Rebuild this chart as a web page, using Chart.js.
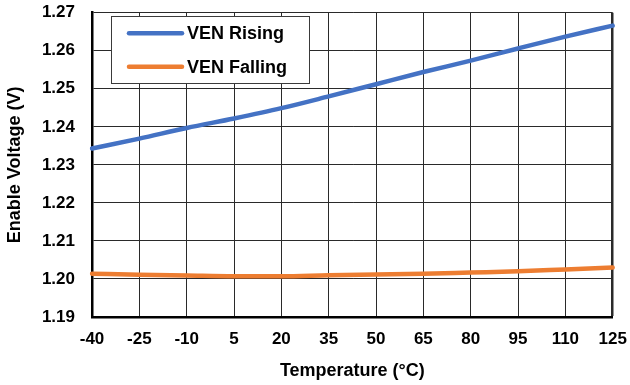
<!DOCTYPE html>
<html>
<head>
<meta charset="utf-8">
<script src="https://cdn.jsdelivr.net/npm/chart.js@4/dist/chart.umd.min.js"></script>
<style>
html,body{margin:0;padding:0;background:#fff;}
#wrap{width:630px;height:385px;position:relative;}
</style>
</head>
<body>
<div id="wrap"><canvas id="c" width="630" height="385"></canvas></div>
<script>
const TEMPS = ['-40','-25','-10','5','20','35','50','65','80','95','110','125'];
const VEN_RISING = [1.2343, 1.2369, 1.2397, 1.2422, 1.2449, 1.2480, 1.2512, 1.2544, 1.2574, 1.2606, 1.2637, 1.2666];
const VEN_FALLING = [1.2014, 1.2011, 1.2009, 1.2007, 1.2007, 1.2010, 1.2012, 1.2014, 1.2017, 1.2020, 1.2025, 1.2030];
const Y_MIN = 1.19, Y_MAX = 1.27, Y_STEP = 0.01;
const X_TITLE = 'Temperature (°C)';
const Y_TITLE = 'Enable Voltage (V)';

const FONT = '"Liberation Sans", Arial, Helvetica, sans-serif';

const insideLegend = {
  id: 'insideLegend',
  afterDraw(chart) {
    const ctx = chart.ctx;
    const x0 = 111, y0 = 16, w = 198, h = 67;
    ctx.save();
    ctx.fillStyle = '#ffffff';
    ctx.fillRect(x0, y0, w, h);
    ctx.strokeStyle = '#3a3a3a';
    ctx.lineWidth = 1;
    ctx.strokeRect(x0 + 0.5, y0 + 0.5, w, h);
    const rows = [33.3, 66.7];
    chart.data.datasets.forEach((ds, i) => {
      const y = rows[i];
      ctx.strokeStyle = ds.borderColor;
      ctx.lineWidth = 4.5;
      ctx.lineCap = 'round';
      ctx.beginPath();
      ctx.moveTo(129, y);
      ctx.lineTo(182, y);
      ctx.stroke();
      ctx.fillStyle = '#000';
      ctx.font = 'bold 18px ' + FONT;
      ctx.textBaseline = 'middle';
      ctx.textAlign = 'left';
      ctx.fillText(ds.label, 187, y + 1);
    });
    ctx.restore();
  }
};

new Chart(document.getElementById('c'), {
  type: 'line',
  data: {
    labels: TEMPS,
    datasets: [
      { label: 'VEN Rising', data: VEN_RISING, borderColor: '#4472C4', backgroundColor: '#4472C4', borderWidth: 4.5, pointRadius: 0, tension: 0.3, cubicInterpolationMode: 'monotone', borderCapStyle: 'round' },
      { label: 'VEN Falling', data: VEN_FALLING, borderColor: '#ED7D31', backgroundColor: '#ED7D31', borderWidth: 4.5, pointRadius: 0, tension: 0.3, cubicInterpolationMode: 'monotone', borderCapStyle: 'round' }
    ]
  },
  options: {
    responsive: false,
    animation: false,
    devicePixelRatio: 1,
    layout: { padding: { left: 0, right: 17.3, top: 12.7, bottom: 0 } },
    plugins: { legend: { display: false }, tooltip: { enabled: false } },
    scales: {
      x: {
        type: 'category',
        offset: false,
        grid: {
          color: '#2a2a2a',
          lineWidth: (c) => (c.index === TEMPS.length - 1 ? 2.5 : 1),
          drawTicks: false
        },
        border: { display: true, color: '#000', width: 2.5 },
        ticks: { color: '#000', font: { family: FONT, size: 17, weight: 'bold' }, padding: 12, maxRotation: 0, autoSkip: false },
        title: { display: true, text: X_TITLE, color: '#000', font: { family: FONT, size: 18, weight: 'bold' }, padding: { top: 0, bottom: 3 } },
        afterFit: (s) => { s.height = 68; s.paddingLeft = 0; s.paddingRight = 0; }
      },
      y: {
        min: Y_MIN, max: Y_MAX,
        grid: { color: '#2a2a2a', lineWidth: 1, drawTicks: false },
        border: { display: true, color: '#000', width: 2.5 },
        ticks: { stepSize: Y_STEP, color: '#000', font: { family: FONT, size: 17, weight: 'bold' }, padding: 17, callback: (v) => Number(v).toFixed(2) },
        title: { display: true, text: Y_TITLE, color: '#000', font: { family: FONT, size: 18, weight: 'bold' }, padding: { top: 4, bottom: 0 } },
        afterFit: (s) => { s.width = 92; s.paddingTop = 0; s.paddingBottom = 0; }
      }
    }
  },
  plugins: [insideLegend]
});
</script>
</body>
</html>
